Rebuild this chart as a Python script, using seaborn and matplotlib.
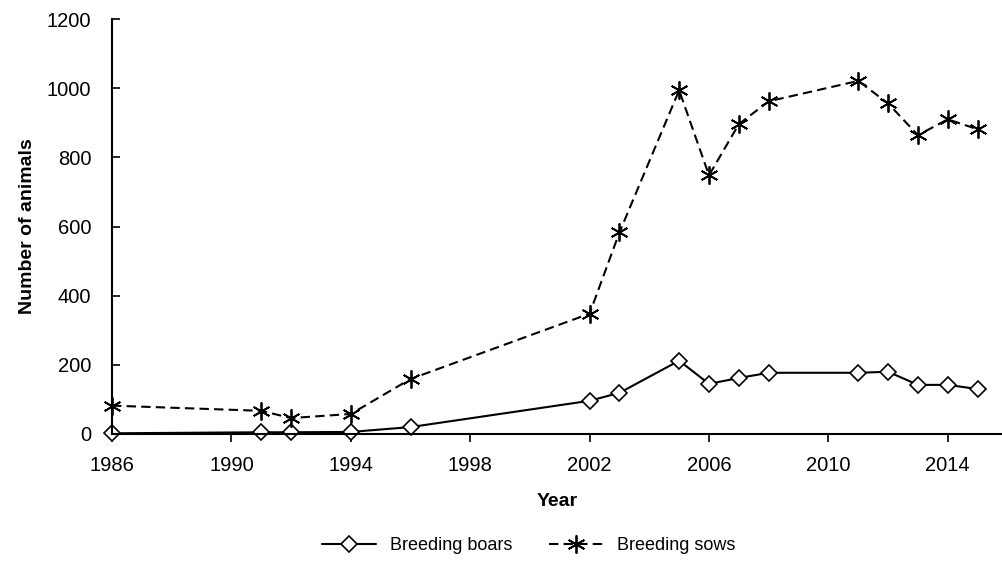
import matplotlib
matplotlib.use("Agg")
import matplotlib.pyplot as plt
import seaborn as sns
import pandas as pd

years = [1986, 1991, 1992, 1994, 1996, 2002, 2003, 2005, 2006, 2007, 2008, 2011, 2012, 2013, 2014, 2015]
boars = [2, 5, 5, 6, 20, 96, 119, 212, 145, 162, 177, 177, 180, 142, 142, 130]
sows = [82, 67, 46, 58, 159, 348, 583, 994, 748, 896, 962, 1021, 956, 864, 910, 881]
x_ticks = [1986, 1990, 1994, 1998, 2002, 2006, 2010, 2014]
y_ticks = [0, 200, 400, 600, 800, 1000, 1200]

df = pd.DataFrame({"Year": years, "Breeding boars": boars, "Breeding sows": sows})

sns.set_style("ticks")
plt.rcParams["font.family"] = ["Liberation Sans", "DejaVu Sans"]
plt.rcParams["text.color"] = "black"
plt.rcParams["xtick.color"] = "black"
plt.rcParams["ytick.color"] = "black"
plt.rcParams["axes.labelcolor"] = "black"

fig = plt.figure(figsize=(10.03, 5.64), dpi=100)
ax = fig.add_axes([0.1117, 0.2305, 0.888, 0.7358])

sns.lineplot(data=df, x="Year", y="Breeding boars", ax=ax, color="black", lw=1.5,
             marker="D", markersize=8, markerfacecolor="white", markeredgecolor="black",
             markeredgewidth=1.2, label="Breeding boars", clip_on=False)
sns.lineplot(data=df, x="Year", y="Breeding sows", ax=ax, color="black", lw=1.5,
             linestyle=(0, (4.5, 2.5)), marker=(6, 2, 0), markersize=13, markeredgecolor="black",
             markeredgewidth=1.3, label="Breeding sows", clip_on=False)

ax.set_xlim(1986, 2015.84)
ax.set_ylim(0, 1200)
ax.set_xticks(x_ticks)
ax.set_yticks(y_ticks)
ax.tick_params(axis="y", direction="in", length=6, width=1.2, labelsize=14.5, pad=15)
ax.tick_params(axis="x", direction="out", length=6, width=1.2, labelsize=14.5, pad=10)
for s in ["top", "right"]:
    ax.spines[s].set_visible(False)
for s in ["left", "bottom"]:
    ax.spines[s].set_color("black")
    ax.spines[s].set_linewidth(1.5)

ax.set_xlabel("Year", fontsize=14, fontweight="bold", labelpad=13)
ax.set_ylabel("Number of animals", fontsize=14, fontweight="bold", labelpad=8)

ax.legend_.remove()
handles, labels = ax.get_legend_handles_labels()
fig.legend(handles, labels, loc="center", bbox_to_anchor=(0.527, 0.032), ncol=2,
           frameon=False, fontsize=13, handlelength=3, columnspacing=2)

fig.savefig("out.png", dpi=100)
